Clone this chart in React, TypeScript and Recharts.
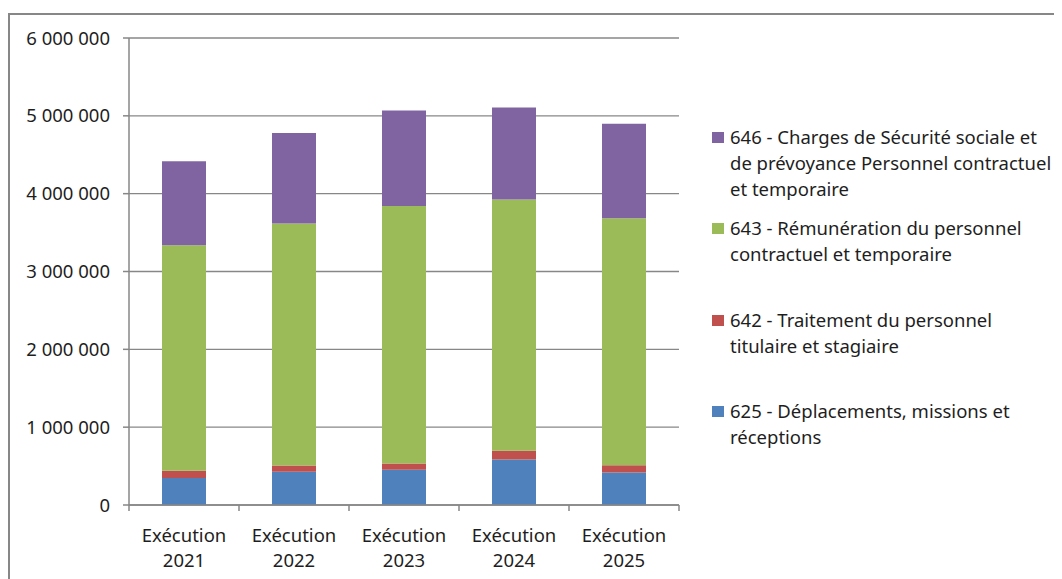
import React from "react";
import { BarChart, Bar, XAxis, YAxis, CartesianGrid, Legend } from "recharts";

const categories = ["Exécution 2021", "Exécution 2022", "Exécution 2023", "Exécution 2024", "Exécution 2025"];

// 625 - Déplacements, missions et réceptions
const deplacements = [348000, 426000, 452000, 585000, 417000];
// 642 - Traitement du personnel titulaire et stagiaire
const traitement = [91000, 81000, 81000, 112000, 95000];
// 643 - Rémunération du personnel contractuel et temporaire
const remuneration = [2899000, 3110000, 3310000, 3228000, 3173000];
// 646 - Charges de Sécurité sociale ...
const charges = [1080000, 1161000, 1227000, 1183000, 1213000];

const yTicks = [0, 1000000, 2000000, 3000000, 4000000, 5000000, 6000000];

const seriesNames = [
    "625 - Déplacements, missions et réceptions",
    "642 - Traitement du personnel titulaire et stagiaire",
    "643 - Rémunération du personnel contractuel et temporaire",
    "646 - Charges de Sécurité sociale et de prévoyance Personnel contractuel et temporaire",
];

// how the legend wraps each name
const legendLines: Record<string, string[]> = {
    [seriesNames[0]]: ["625 - Déplacements, missions et", "réceptions"],
    [seriesNames[1]]: ["642 - Traitement du personnel", "titulaire et stagiaire"],
    [seriesNames[2]]: ["643 - Rémunération du personnel", "contractuel et temporaire"],
    [seriesNames[3]]: ["646 - Charges de Sécurité sociale et", "de prévoyance Personnel contractuel", "et temporaire"],
};

const data = categories.map((c, i) => ({
    name: c,
    d625: deplacements[i],
    d642: traitement[i],
    d643: remuneration[i],
    d646: charges[i],
}));

const FONT = "'Noto Sans', sans-serif";
const TEXT = "#1e1e1e";
const AXIS = "#878787";
const BAND = 110;

const formatNumber = (v: number) => String(v).replace(/\B(?=(\d{3})+(?!\d))/g, " ");

const XTick = (props: any) => {
    const { x, y, payload, index } = props;
    const parts = String(payload.value).split(" ");
    return (
        <g>
            <line x1={x - BAND / 2} y1={y} x2={x - BAND / 2} y2={y + 6} stroke={AXIS} strokeWidth={1.5} />
            {index === categories.length - 1 && (
                <line x1={x + BAND / 2} y1={y} x2={x + BAND / 2} y2={y + 6} stroke={AXIS} strokeWidth={1.5} />
            )}
            <text x={x} y={y + 37} textAnchor="middle" fill={TEXT} fontSize={18.5} fontFamily={FONT}>
                {parts[0]}
            </text>
            <text x={x} y={y + 62} textAnchor="middle" fill={TEXT} fontSize={18.5} fontFamily={FONT}>
                {parts[1]}
            </text>
        </g>
    );
};

const renderLegend = (props: any) => {
    const items = [...(props.payload || [])].reverse();
    return (
        <div style={{ fontFamily: FONT, fontSize: 18.5, color: TEXT }}>
            {items.map((item: any) => (
                <div key={item.value} style={{ position: "relative", height: 91.3, lineHeight: "26px" }}>
                    <span
                        style={{
                            position: "absolute",
                            left: 0,
                            top: 8,
                            width: 12,
                            height: 11,
                            background: item.color,
                        }}
                    />
                    <div style={{ paddingLeft: 18, whiteSpace: "nowrap" }}>
                        {(legendLines[item.value] || [item.value]).map((l) => (
                            <div key={l}>{l}</div>
                        ))}
                    </div>
                </div>
            ))}
        </div>
    );
};

export default function App() {
    return (
        <div
            style={{
                marginTop: 5,
                borderTop: `2px solid ${AXIS}`,
                borderLeft: `2px solid ${AXIS}`,
                width: 1052,
                height: 564,
                fontFamily: FONT,
            }}
        >
            <BarChart width={1052} height={564} data={data} margin={{ top: 23, right: 383, left: 0, bottom: 0 }}>
                <CartesianGrid vertical={false} stroke={AXIS} strokeWidth={1.3} />
                <XAxis
                    dataKey="name"
                    height={74}
                    axisLine={{ stroke: AXIS, strokeWidth: 1.5 }}
                    tickLine={false}
                    tickSize={0}
                    tickMargin={0}
                    tick={<XTick />}
                    interval={0}
                />
                <YAxis
                    width={119}
                    domain={[0, 6000000]}
                    ticks={yTicks}
                    interval={0}
                    tickFormatter={formatNumber}
                    axisLine={{ stroke: AXIS, strokeWidth: 1.5 }}
                    tickLine={{ stroke: AXIS, strokeWidth: 1.5 }}
                    tickSize={6}
                    tickMargin={13}
                    tick={{ fill: TEXT, fontSize: 18.5, fontFamily: FONT }}
                />
                <Legend
                    layout="horizontal"
                    verticalAlign="middle"
                    align="center"
                    content={renderLegend}
                    wrapperStyle={{ left: 702, top: 109, width: 350, height: 370 }}
                />
                <Bar dataKey="d625" name={seriesNames[0]} stackId="a" fill="#4F81BD" barSize={44} isAnimationActive={false} />
                <Bar dataKey="d642" name={seriesNames[1]} stackId="a" fill="#C0504D" barSize={44} isAnimationActive={false} />
                <Bar dataKey="d643" name={seriesNames[2]} stackId="a" fill="#9BBB59" barSize={44} isAnimationActive={false} />
                <Bar dataKey="d646" name={seriesNames[3]} stackId="a" fill="#8064A2" barSize={44} isAnimationActive={false} />
            </BarChart>
        </div>
    );
}
